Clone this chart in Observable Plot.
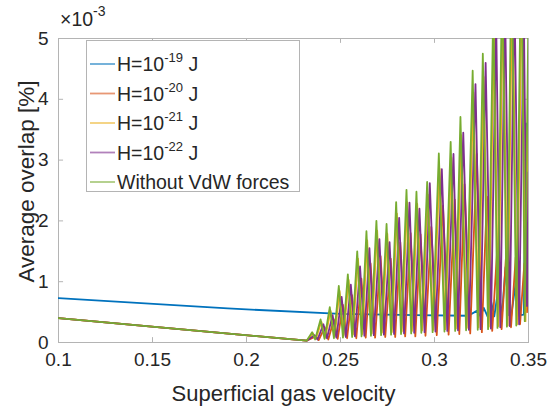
<!DOCTYPE html>
<html>
<head>
<meta charset="utf-8">
<script src="https://cdn.jsdelivr.net/npm/d3@7"></script>
<script src="https://cdn.jsdelivr.net/npm/@observablehq/plot@0.6"></script>
<style>
  html, body { margin: 0; padding: 0; background: #fff; }
  #chart { width: 552px; height: 407px; }
</style>
</head>
<body>
<div id="chart"></div>
<script>
// ---- data (average overlap in units of 1e-3 %) ----
const xTicks = [0.1, 0.15, 0.2, 0.25, 0.3, 0.35];
const xTickLabels = ["0.1", "0.15", "0.2", "0.25", "0.3", "0.35"];
const yTicks = [0, 1, 2, 3, 4, 5];
const yTickLabels = ["0", "1", "2", "3", "4", "5"];

const seriesNames = ["H=1e-19", "H=1e-20", "H=1e-21", "H=1e-22", "Without VdW forces"];
const seriesColors = ["#0072BD", "#D95319", "#EDB120", "#7E2F8E", "#77AC30"];

const h19 = [[0.1,0.73],[0.19,0.56],[0.25,0.47],[0.29,0.45],[0.318,0.44],[0.3225,0.52],[0.3245,0.43],[0.3262,0.57],[0.3282,0.43],[0.3300,0.69],[0.3318,0.43],[0.3340,0.9],[0.3358,0.43],[0.3378,1.24],[0.3395,0.45],[0.3408,0.44],[0.3441,1.18],[0.3458,0.45],[0.3475,0.46],[0.3487,3.6],[0.3500,3.6]];

const h20 = [[0.1,0.40],[0.232,0.03],[0.2368,0.10],[0.2384,0.04],[0.2416,0.25],[0.2435,0.05],[0.2465,0.38],[0.2485,0.06],[0.2513,0.62],[0.2535,0.07],[0.2561,0.78],[0.2584,0.07],[0.2611,1.05],[0.2634,0.08],[0.2660,1.30],[0.2684,0.08],[0.2713,1.42],[0.2738,0.09],[0.2767,1.38],[0.2791,0.09],[0.2818,1.65],[0.2844,0.1],[0.2873,1.80],[0.2898,0.1],[0.2926,1.78],[0.2952,0.11],[0.2983,1.90],[0.3012,0.12],[0.3045,2.25],[0.3075,0.13],[0.3108,2.35],[0.3132,0.14],[0.3160,2.60],[0.3190,0.15],[0.3225,3.10],[0.3252,0.17],[0.3279,2.40],[0.3307,0.19],[0.3335,1.6],[0.3357,0.22],[0.3382,1.5],[0.3407,0.25],[0.3432,1.4],[0.3455,0.3],[0.3478,1.3],[0.3492,0.5],[0.3500,1.2]];

const h21 = [[0.1,0.40],[0.232,0.03],[0.2353,0.15],[0.2369,0.06],[0.2398,0.34],[0.2419,0.08],[0.2447,0.52],[0.2469,0.1],[0.2495,0.85],[0.2517,0.12],[0.2543,1.03],[0.2566,0.13],[0.2593,1.38],[0.2616,0.14],[0.2642,1.68],[0.2666,0.15],[0.2695,1.84],[0.2720,0.16],[0.2749,1.79],[0.2773,0.17],[0.2800,2.12],[0.2826,0.18],[0.2855,2.31],[0.2880,0.19],[0.2908,2.28],[0.2934,0.2],[0.2965,2.43],[0.2994,0.21],[0.3027,2.86],[0.3057,0.22],[0.3090,3.04],[0.3114,0.23],[0.3142,3.41],[0.3172,0.24],[0.3207,4.11],[0.3234,0.25],[0.3261,4.37],[0.3289,0.26],[0.3317,5.2],[0.3339,0.27],[0.3364,5.7],[0.3389,0.28],[0.3414,6.0],[0.3439,0.3],[0.3466,6.2],[0.3484,0.35],[0.3500,4.5]];

const h22 = [[0.1,0.40],[0.232,0.03],[0.2362,0.12],[0.2378,0.05],[0.2409,0.30],[0.2428,0.07],[0.2458,0.45],[0.2478,0.08],[0.2506,0.75],[0.2528,0.09],[0.2555,0.95],[0.2577,0.1],[0.2604,1.25],[0.2627,0.11],[0.2654,1.55],[0.2677,0.12],[0.2707,1.70],[0.2731,0.13],[0.2761,1.65],[0.2785,0.14],[0.2812,2.05],[0.2838,0.15],[0.2867,2.30],[0.2892,0.16],[0.2920,2.20],[0.2947,0.17],[0.2975,2.62],[0.3005,0.18],[0.3039,2.85],[0.3068,0.19],[0.3101,3.10],[0.3125,0.2],[0.3153,3.45],[0.3183,0.21],[0.3218,4.25],[0.3245,0.22],[0.3272,4.60],[0.3300,0.23],[0.3328,5.3],[0.3350,0.25],[0.3375,5.6],[0.3400,0.27],[0.3425,5.8],[0.3450,0.3],[0.3475,5.5],[0.3492,0.6],[0.3500,2.8]];

const noVdw = [[0.1,0.40],[0.232,0.03],[0.2349,0.17],[0.2365,0.05],[0.2394,0.38],[0.2415,0.06],[0.2443,0.58],[0.2465,0.07],[0.2491,0.93],[0.2513,0.08],[0.2539,1.12],[0.2562,0.09],[0.2589,1.50],[0.2612,0.1],[0.2638,1.83],[0.2662,0.11],[0.2691,2.00],[0.2716,0.12],[0.2745,1.95],[0.2769,0.13],[0.2796,2.31],[0.2822,0.14],[0.2851,2.51],[0.2876,0.15],[0.2904,2.48],[0.2930,0.16],[0.2961,2.64],[0.2990,0.17],[0.3023,3.11],[0.3053,0.18],[0.3086,3.30],[0.3110,0.19],[0.3138,3.71],[0.3168,0.2],[0.3203,4.47],[0.3230,0.21],[0.3257,4.75],[0.3285,0.22],[0.3313,5.6],[0.3335,0.24],[0.3360,6.2],[0.3385,0.26],[0.3410,6.5],[0.3435,0.28],[0.3462,6.8],[0.3480,0.35],[0.3500,5.5]];

// ---- build table ----
const allSeries = [h19, h20, h21, h22, noVdw];
const rows = [];
allSeries.forEach((s, k) => s.forEach(([v, o]) => rows.push({v, o, series: seriesNames[k]})));

const font = "'Liberation Sans', Arial, Helvetica, sans-serif";
const axisGray = "#b4b4b4";
const textColor = "#262626";

const chart = Plot.plot({
  width: 552,
  height: 407,
  marginLeft: 58,
  marginRight: 24,
  marginTop: 38,
  marginBottom: 65,
  style: {fontFamily: font, color: textColor, background: "#fff"},
  x: {domain: [0.1, 0.35]},
  y: {domain: [0, 5]},
  color: {domain: seriesNames, range: seriesColors},
  marks: [
    Plot.frame({stroke: axisGray, strokeWidth: 1}),
    Plot.ruleX(xTicks, {x: d => d, y1: 0, y2: 0.08, stroke: axisGray}),
    Plot.ruleX(xTicks, {x: d => d, y1: 4.92, y2: 5, stroke: axisGray}),
    Plot.ruleY(yTicks, {y: d => d, x1: 0.1, x2: 0.1027, stroke: axisGray}),
    Plot.ruleY(yTicks, {y: d => d, x1: 0.3473, x2: 0.35, stroke: axisGray}),
    Plot.line(rows, {x: "v", y: "o", z: "series", stroke: "series", strokeWidth: 1.8, clip: true}),
    Plot.axisX(xTicks, {tickSize: 0, tickPadding: 10, tickFormat: (d, i) => xTickLabels[i], label: null, fontSize: 19, fill: textColor}),
    Plot.axisY(yTicks, {tickSize: 0, tickPadding: 10, tickFormat: (d, i) => yTickLabels[i], label: null, fontSize: 19, fill: textColor}),
    Plot.text(["Superficial gas velocity"], {frameAnchor: "bottom", dx: -10, dy: 58, fontSize: 22, fill: textColor, textAnchor: "middle"}),
    Plot.text(["Average overlap [%]"], {frameAnchor: "left", dx: -32, dy: -9, rotate: -90, fontSize: 22.5, fill: textColor, textAnchor: "middle", lineAnchor: "middle"})
  ]
});

document.getElementById("chart").appendChild(chart);

// ---- exponent label and legend ----
const svg = d3.select(chart);
const exp = svg.append("text").attr("x", 60).attr("y", 26).attr("text-anchor", "start")
  .attr("font-family", font).attr("font-size", 19.5).attr("fill", textColor);
exp.append("tspan").text("\u00d710");
exp.append("tspan").attr("dy", -10).attr("font-size", 14).text("-3");

const legendLabels = [["H=10", "-19", " J"], ["H=10", "-20", " J"], ["H=10", "-21", " J"], ["H=10", "-22", " J"], ["Without VdW forces", "", ""]];
const lg = svg.append("g");
lg.append("rect").attr("x", 86.5).attr("y", 40.5).attr("width", 213).attr("height", 151)
  .attr("fill", "#fff").attr("stroke", axisGray);
legendLabels.forEach((lab, i) => {
  const cy = 64 + i * 29.5;
  lg.append("line").attr("x1", 90).attr("x2", 115).attr("y1", cy).attr("y2", cy)
    .attr("stroke", seriesColors[i]).attr("stroke-width", 1.8).attr("opacity", 0.6);
  const t = lg.append("text").attr("x", 117).attr("y", cy + 7).attr("text-anchor", "start")
    .attr("font-family", font).attr("font-size", 19.5).attr("fill", textColor);
  t.append("tspan").text(lab[0]);
  if (lab[1]) {
    t.append("tspan").attr("dy", -9).attr("font-size", 13).text(lab[1]);
    t.append("tspan").attr("dy", 9).text(lab[2]);
  }
});
</script>
</body>
</html>
